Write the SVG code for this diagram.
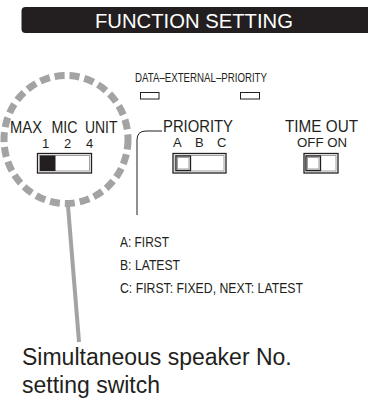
<svg xmlns="http://www.w3.org/2000/svg" width="368" height="401" viewBox="0 0 368 401">
<style>
text{font-family:"Liberation Sans",Arial,sans-serif;fill:#231f20}
.lbl{font-size:16px}
.sm{font-size:13px}
.leg{font-size:15.5px}
.sw{fill:#fff;stroke:#231f20;stroke-width:1.3}
.swi{fill:none;stroke:#888;stroke-width:0.8}
.led{fill:#fff;stroke:#231f20;stroke-width:1}
</style>
<rect width="368" height="401" fill="#fff"/>
<g id="title">
<path d="M25.5 7 H368 V33 H25.5 Q21.5 33 21.5 29 V11 Q21.5 7 25.5 7 Z" fill="#231f20"/>
<text x="95" y="27.5" font-size="21" textLength="198" lengthAdjust="spacingAndGlyphs" style="fill:#fff">FUNCTION SETTING</text>
</g>
<g id="highlight">
<ellipse cx="66" cy="139.5" rx="62" ry="64" fill="none" stroke="#a3a3a3" stroke-width="7" stroke-dasharray="10 5"/>
</g>
<g id="connectors">
<line x1="68" y1="206" x2="79" y2="342" stroke="#a3a3a3" stroke-width="4"/>
<path d="M162 131 H146 Q137 131 137 140 V215" fill="none" stroke="#231f20" stroke-width="1"/>
</g>
<g id="max-mic-unit">
<text class="lbl" x="10" y="133" textLength="32" lengthAdjust="spacingAndGlyphs">MAX</text>
<text class="lbl" x="51.5" y="133" textLength="26" lengthAdjust="spacingAndGlyphs">MIC</text>
<text class="lbl" x="85" y="133" textLength="32.5" lengthAdjust="spacingAndGlyphs">UNIT</text>
<text class="sm" x="42" y="148">1</text>
<text class="sm" x="64" y="148">2</text>
<text class="sm" x="86" y="148">4</text>
<rect class="sw" x="37.5" y="153.5" width="54" height="19.5"/>
<rect class="swi" x="39.5" y="155.5" width="50" height="15.5"/>
<rect x="40" y="155.5" width="15.5" height="15.5" fill="#231f20"/>
</g>
<g id="data-external-priority">
<text x="135" y="82" font-size="13" textLength="132" lengthAdjust="spacingAndGlyphs">DATA–EXTERNAL–PRIORITY</text>
<rect class="led" x="140.5" y="92.5" width="18.5" height="6.5"/>
<rect class="led" x="240.5" y="92.5" width="19" height="6.5"/>
</g>
<g id="priority">
<text class="lbl" x="163" y="132" textLength="70" lengthAdjust="spacingAndGlyphs">PRIORITY</text>
<text class="sm" x="173" y="147">A</text>
<text class="sm" x="195" y="147">B</text>
<text class="sm" x="217" y="147">C</text>
<rect class="sw" x="173" y="153.5" width="53" height="19.5"/>
<rect class="swi" x="175" y="155.5" width="49" height="15.5"/>
<rect class="sw" x="176" y="156" width="14.5" height="14.5"/>
<rect class="swi" x="177.5" y="157.5" width="11.5" height="11.5"/>
</g>
<g id="time-out">
<text class="lbl" x="285" y="132" textLength="73" lengthAdjust="spacingAndGlyphs">TIME OUT</text>
<text class="sm" x="297" y="147" textLength="50" lengthAdjust="spacingAndGlyphs">OFF ON</text>
<rect class="sw" x="304" y="153.5" width="34" height="19.5"/>
<rect class="swi" x="306" y="155.5" width="30" height="15.5"/>
<rect class="sw" x="306" y="156" width="14.5" height="14.5"/>
<rect class="swi" x="307.5" y="157.5" width="11.5" height="11.5"/>
</g>
<g id="legend">
<text class="leg" x="120" y="247" textLength="49" lengthAdjust="spacingAndGlyphs">A: FIRST</text>
<text class="leg" x="120" y="270" textLength="60" lengthAdjust="spacingAndGlyphs">B: LATEST</text>
<text class="leg" x="120" y="293" textLength="183" lengthAdjust="spacingAndGlyphs">C: FIRST: FIXED, NEXT: LATEST</text>
</g>
<g id="caption">
<text x="22" y="365" font-size="23">Simultaneous speaker No.</text>
<text x="22" y="393" font-size="23">setting switch</text>
</g>
</svg>
